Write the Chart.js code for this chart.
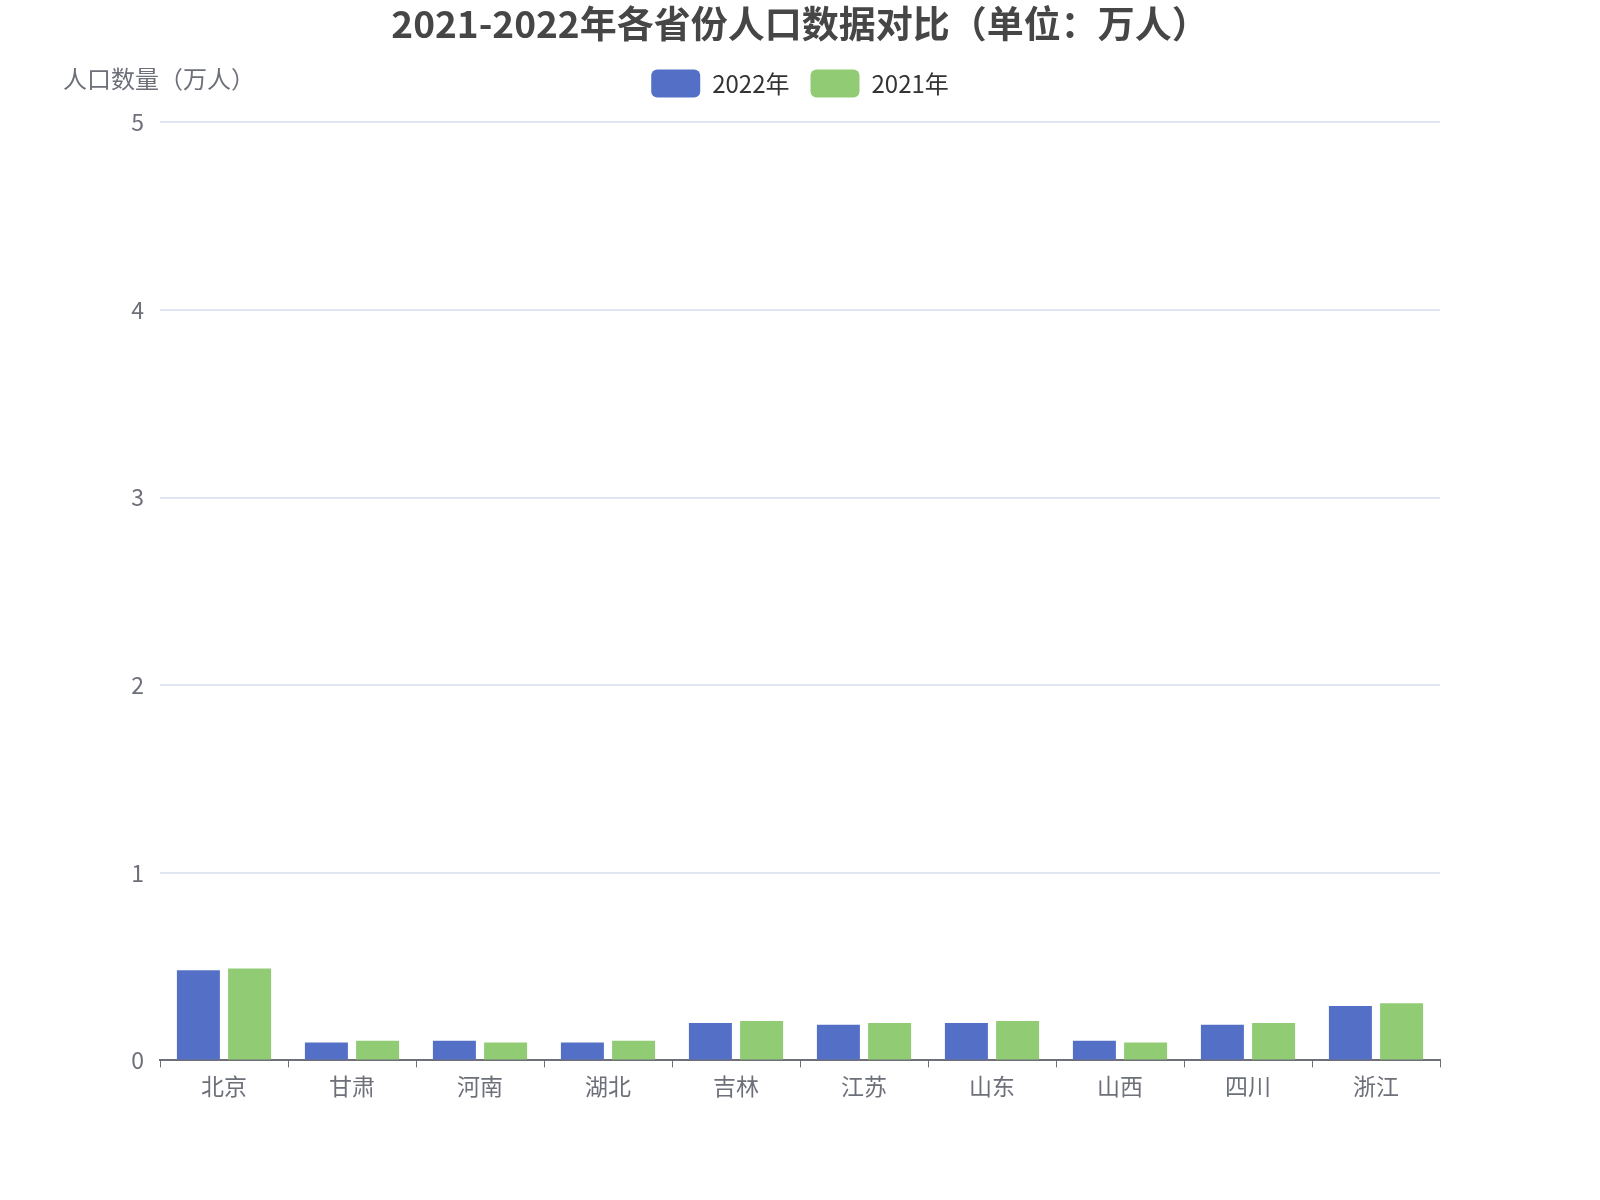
<!DOCTYPE html>
<html>
<head>
<meta charset="utf-8">
<script src="https://cdn.jsdelivr.net/npm/chart.js@4.4.0/dist/chart.umd.min.js"></script>
<style>
  html, body { margin: 0; padding: 0; background: #ffffff; }
  #wrap { width: 1600px; height: 1200px; }
</style>
</head>
<body>
<div id="wrap"><canvas id="myChart" width="1600" height="1200"></canvas></div>
<script>
// categories and values (万人)
const provinces = ['北京', '甘肃', '河南', '湖北', '吉林', '江苏', '山东', '山西', '四川', '浙江'];
const pop2022 = [0.48, 0.095, 0.105, 0.095, 0.2, 0.19, 0.2, 0.105, 0.19, 0.29];
const pop2021 = [0.49, 0.105, 0.095, 0.105, 0.21, 0.2, 0.21, 0.095, 0.2, 0.305];
const yTicks = [0, 1, 2, 3, 4, 5];

const fontFamily = '"Noto Sans CJK SC", "Noto Sans", sans-serif';
const labelColor = '#6e7079';

// y axis name, drawn horizontally above the axis like the original
const axisNamePlugin = {
    id: 'axisName',
    afterDraw(chart) {
        const ctx = chart.ctx;
        const area = chart.chartArea;
        ctx.save();
        ctx.font = '24px ' + fontFamily;
        ctx.fillStyle = labelColor;
        ctx.textAlign = 'center';
        ctx.textBaseline = 'middle';
        ctx.fillText('人口数量（万人）', area.left - 1, area.top - 44);
        ctx.restore();
    }
};

new Chart(document.getElementById('myChart'), {
    type: 'bar',
    data: {
        labels: provinces,
        datasets: [
            { label: '2022年', data: pop2022, backgroundColor: '#5470c6' },
            { label: '2021年', data: pop2021, backgroundColor: '#91cc75' }
        ]
    },
    options: {
        responsive: false,
        animation: false,
        devicePixelRatio: 1,
        categoryPercentage: 0.8,
        barPercentage: 0.84,
        layout: { padding: { left: 0, right: 0, top: 0, bottom: 95 } },
        plugins: {
            title: {
                display: true,
                text: '2021-2022年各省份人口数据对比（单位：万人）',
                color: '#464646',
                font: { family: fontFamily, size: 37, weight: 'bold' },
                padding: { top: 2, bottom: 2 }
            },
            legend: {
                display: true,
                labels: {
                    color: '#333333',
                    font: { family: fontFamily, size: 24 },
                    boxWidth: 49,
                    boxHeight: 28,
                    useBorderRadius: true,
                    borderRadius: 6,
                    padding: 21
                }
            },
            tooltip: { enabled: false }
        },
        scales: {
            x: {
                offset: true,
                grid: {
                    display: true,
                    offset: true,
                    drawOnChartArea: false,
                    drawTicks: true,
                    tickLength: 7,
                    color: labelColor
                },
                border: { display: true, color: labelColor, width: 2 },
                ticks: {
                    color: labelColor,
                    font: { family: fontFamily, size: 23 },
                    padding: 5
                }
            },
            y: {
                min: 0,
                max: 5,
                afterBuildTicks(scale) {
                    scale.ticks = yTicks.map(v => ({ value: v }));
                },
                afterFit(scale) {
                    scale.width = 160;
                },
                grid: { color: '#e0e6f1', lineWidth: 2, drawTicks: false },
                border: { display: false },
                ticks: {
                    color: labelColor,
                    font: { family: fontFamily, size: 23 },
                    padding: 16
                }
            },
            // empty right-hand gutter so title and legend stay centred on the page
            gutter: {
                type: 'linear',
                position: 'right',
                display: true,
                afterFit(scale) {
                    scale.width = 160;
                },
                grid: { display: false },
                border: { display: false },
                ticks: { display: false }
            }
        }
    },
    plugins: [axisNamePlugin, {
        id: 'legendGap',
        beforeInit(chart) {
            const fit = chart.legend.fit;
            chart.legend.fit = function () {
                fit.call(this);
                this.height += 15;
            };
        }
    }]
});
</script>
</body>
</html>
